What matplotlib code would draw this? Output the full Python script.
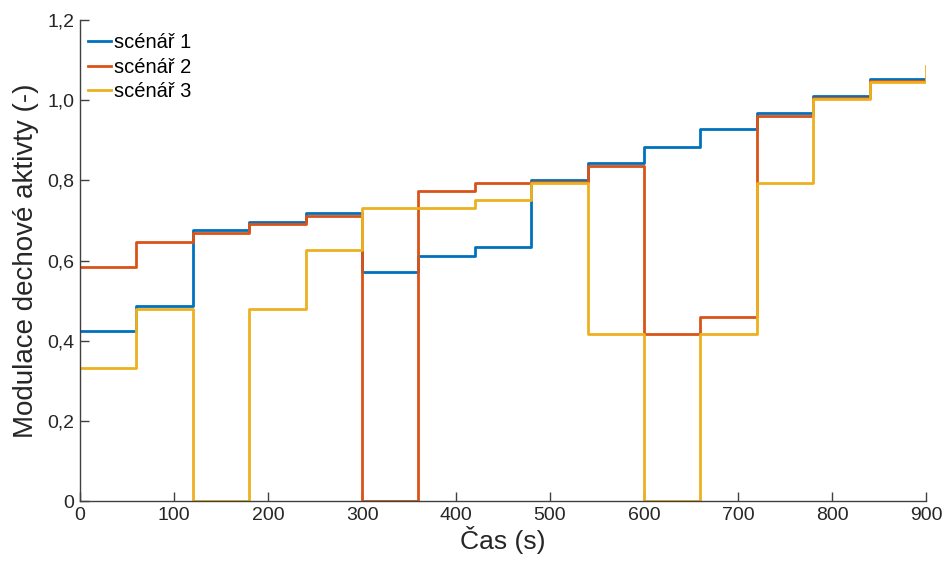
import numpy as np
import matplotlib.pyplot as plt

plt.rcParams['font.family'] = ['Liberation Sans', 'DejaVu Sans']

# time grid (s), one value per 60 s interval, last one closes the stairs
cas = np.arange(0, 901, 60)

scenar_1 = [0.425, 0.4875, 0.675, 0.697, 0.7175, 0.571, 0.6125, 0.634,
            0.800, 0.8425, 0.884, 0.9275, 0.969, 1.010, 1.0525, 1.0525]
scenar_2 = [0.584, 0.647, 0.6675, 0.690, 0.711, 0.0, 0.7725, 0.794,
            0.795, 0.836, 0.4175, 0.459, 0.961, 1.005, 1.047, 1.047]
scenar_3 = [0.333, 0.479, 0.0, 0.479, 0.627, 0.731, 0.731, 0.752,
            0.794, 0.4175, 0.0, 0.4175, 0.794, 1.0025, 1.046, 1.085]

nazvy = ['scénář 1', 'scénář 2', 'scénář 3']
barvy = ['#0072BD', '#D95319', '#EDB120']

fig = plt.figure(figsize=(9.46, 5.63), dpi=100)
ax = fig.add_axes([0.0846, 0.110, 0.8943, 0.8545])

for y, nazev, barva in zip([scenar_1, scenar_2, scenar_3], nazvy, barvy):
    ax.step(cas, y, where='post', color=barva, lw=2.0, label=nazev)

ax.set_xlim(0, 900)
ax.set_ylim(0, 1.2)
ax.set_xticks(np.arange(0, 901, 100))
yt = np.arange(0, 1.21, 0.2)
ax.set_yticks(yt)
ax.set_yticklabels(['0' if v == 0 else f'{v:.1f}'.replace('.', ',') for v in yt])

for s in ['top', 'right']:
    ax.spines[s].set_visible(False)
for s in ['left', 'bottom']:
    ax.spines[s].set_color('#404040')
    ax.spines[s].set_linewidth(1.0)
ax.tick_params(direction='in', length=6.5, width=1.0, color='#404040',
               labelsize=14, labelcolor='#262626', pad=4)

ax.set_xlabel('Čas (s)', fontsize=19, color='#262626', labelpad=2)
ax.set_ylabel('Modulace dechové aktivty (-)', fontsize=20, color='#262626', labelpad=6)

leg = ax.legend(loc='upper left', frameon=False, fontsize=14.5, handlelength=1.1,
                handletextpad=0.15, labelspacing=0.26, borderaxespad=0.0,
                borderpad=0.67, bbox_to_anchor=(-0.006, 1.0))

fig.savefig('out.png', dpi=100)
plt.close(fig)
